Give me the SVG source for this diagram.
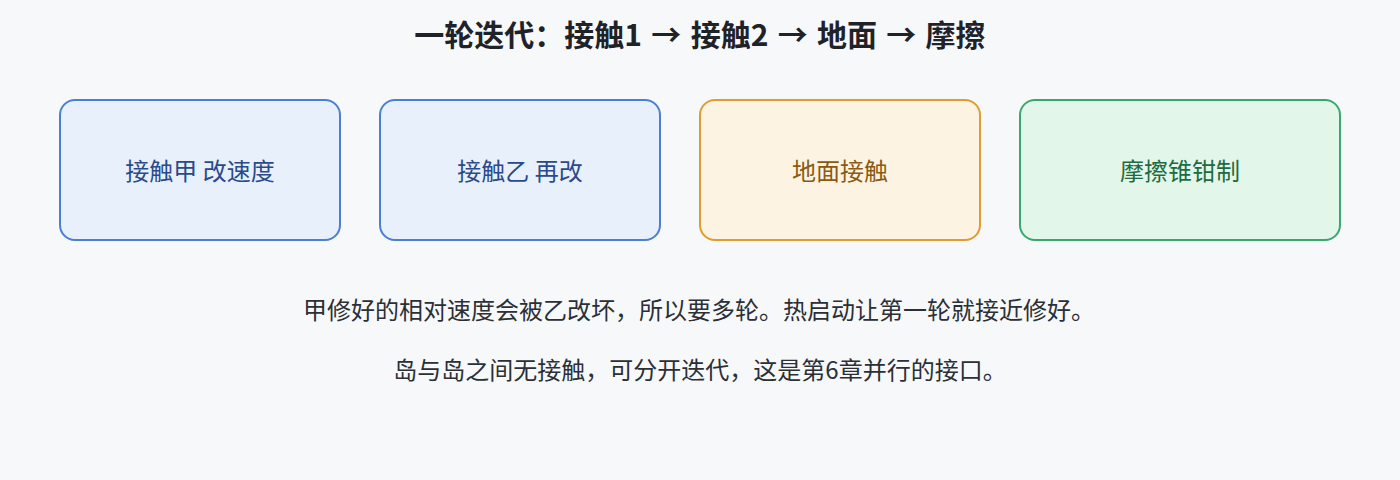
<svg xmlns="http://www.w3.org/2000/svg" width="1400" height="480" viewBox="0 0 1400 480">
<style>
text{font-family:"Noto Sans CJK SC","Noto Sans",sans-serif;text-anchor:middle}
.title{font-size:30px;font-weight:700;fill:#1f2328;word-spacing:2.5px}
.box{stroke-width:2}
.lbl{font-size:24px}
.note{font-size:24px;fill:#2b2f36}
.blue rect{fill:#e8f0fc;stroke:#4a7fd4}
.blue text{fill:#2a4a8c}
.amber rect{fill:#fdf3e2;stroke:#e09c30}
.amber text{fill:#8a5a12}
.green rect{fill:#e3f6ea;stroke:#3aa86e}
.green text{fill:#1e6b40}
</style>
<rect width="1400" height="480" fill="#f7f8fa"/>
<text class="title" x="700" y="46">一轮迭代：接触1 → 接触2 → 地面 → 摩擦</text>
<g id="connectors"></g>
<g id="n1" class="blue"><rect class="box" x="60" y="100" width="280" height="140" rx="15"/><text class="lbl" x="200" y="180">接触甲 改速度</text></g>
<g id="n2" class="blue"><rect class="box" x="380" y="100" width="280" height="140" rx="15"/><text class="lbl" x="520" y="180">接触乙 再改</text></g>
<g id="n3" class="amber"><rect class="box" x="700" y="100" width="280" height="140" rx="15"/><text class="lbl" x="840" y="180">地面接触</text></g>
<g id="n4" class="green"><rect class="box" x="1020" y="100" width="320" height="140" rx="15"/><text class="lbl" x="1180" y="180">摩擦锥钳制</text></g>
<text class="note" x="699" y="319">甲修好的相对速度会被乙改坏，所以要多轮。热启动让第一轮就接近修好。</text>
<text class="note" x="700" y="379">岛与岛之间无接触，可分开迭代，这是第6章并行的接口。</text>
</svg>
